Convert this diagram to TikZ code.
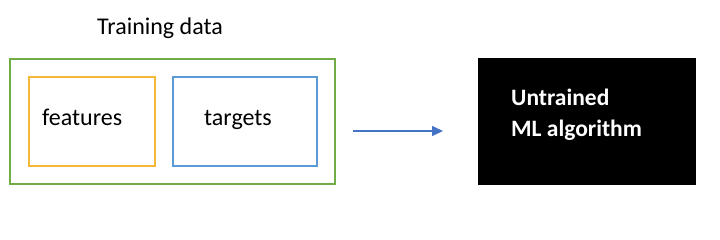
\documentclass[tikz,border=0pt]{standalone}
\usepackage{fontspec}
\setmainfont{Carlito}
\usetikzlibrary{arrows.meta}
\definecolor{boxgreen}{RGB}{112,173,71}
\definecolor{boxyellow}{RGB}{244,185,58}
\definecolor{boxblue}{RGB}{91,155,213}
\definecolor{arrowblue}{RGB}{68,114,196}
\tikzset{
  frame/.style={draw, line width=1.6pt, inner sep=0pt},
  label/.style={font=\fontsize{24}{28}\selectfont, inner sep=0pt, anchor=base west},
  whitelabel/.style={font=\bfseries\fontsize{23.5}{28}\selectfont, text=white, inner sep=0pt, anchor=base west},
}
\begin{document}
\begin{tikzpicture}[x=1pt, y=-1pt]
  \useasboundingbox (0,0) rectangle (720,240);
  % training data group
  \node[frame, draw=boxgreen, minimum width=325pt, minimum height=125pt] (data) at (172.5,121.5) {};
  \node[frame, draw=boxyellow, minimum width=126pt, minimum height=89pt] (feat) at (92,121.5) {};
  \node[frame, draw=boxblue, minimum width=144pt, minimum height=89pt] (targ) at (245,121.5) {};
  \node[font=\fontsize{24}{28}\selectfont, inner sep=0pt, anchor=base] (title) at (160,35) {Training data};
  \node[label] (ftext) at (42,126) {features};
  \node[label] (ttext) at (204,126) {targets};
  % algorithm box
  \node[fill=black, minimum width=218pt, minimum height=127pt, inner sep=0pt] (algo) at (587,121.5) {};
  \node[whitelabel] (l1) at (511,106) {Untrained};
  \node[whitelabel] (l2) at (511,137) {ML algorithm};
  % connector
  \coordinate (start) at (353,131);
  \coordinate (stop) at (443,131);
  \draw[arrowblue, line width=1.4pt, -{Triangle[length=11pt,width=10pt]}] (start) -- (stop);
\end{tikzpicture}
\end{document}
